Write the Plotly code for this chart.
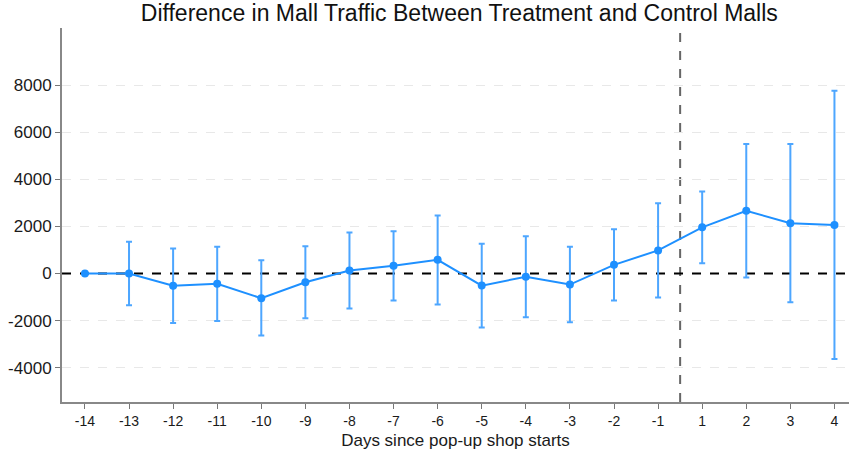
import plotly.graph_objects as go

# Event-study estimates: days relative to the pop-up shop opening
day_labels = ["-14", "-13", "-12", "-11", "-10", "-9", "-8", "-7", "-6",
              "-5", "-4", "-3", "-2", "-1", "1", "2", "3", "4"]
estimate = [0, 0, -520, -440, -1050, -370, 130, 325, 580,
            -515, -140, -470, 367, 980, 1960, 2660, 2137, 2058]
ci_low = [0, -1345, -2100, -2015, -2635, -1900, -1487, -1147, -1317,
          -2294, -1856, -2069, -1147, -1020, 437, -170, -1219, -3628]
ci_high = [0, 1342, 1062, 1130, 565, 1160, 1742, 1797, 2464,
           1257, 1585, 1130, 1882, 2986, 3483, 5493, 5493, 7757]
y_ticks = [-4000, -2000, 0, 2000, 4000, 6000, 8000]

xpos = list(range(len(day_labels)))
x_range = [-0.52, 17.33]
y_range = [-5455, 10420]
err_plus = [h - e for h, e in zip(ci_high, estimate)]
err_minus = [e - l for e, l in zip(estimate, ci_low)]
# the first day is the reference period: no interval drawn
err_visible_plus = [None if i == 0 else v for i, v in enumerate(err_plus)]
err_visible_minus = [None if i == 0 else v for i, v in enumerate(err_minus)]

BLUE = "#1E90FF"
ERR_BLUE = "#4DA6FF"
FONT = "Liberation Sans, Arial, sans-serif"

fig = go.Figure()
# horizontal reference line at zero, drawn beneath the estimates
fig.add_trace(go.Scatter(
    x=x_range, y=[0, 0], mode="lines",
    line=dict(color="black", width=2, dash="dash"),
    hoverinfo="skip", showlegend=False, cliponaxis=True,
))
fig.add_trace(go.Scatter(
    x=xpos, y=estimate,
    mode="lines+markers",
    line=dict(color=BLUE, width=2),
    marker=dict(color=BLUE, size=8),
    error_y=dict(type="data", symmetric=False,
                 array=err_visible_plus, arrayminus=err_visible_minus,
                 color=ERR_BLUE, thickness=2, width=3),
    showlegend=False,
))

# treatment start between day -1 and day 1
fig.add_shape(type="line", xref="x", yref="paper", x0=13.5, x1=13.5, y0=0, y1=1,
              line=dict(color="#666666", width=2, dash="dash"), layer="between")

fig.update_layout(
    width=849, height=452,
    margin=dict(l=62, r=0, t=28, b=50),
    paper_bgcolor="white", plot_bgcolor="white",
    font=dict(family=FONT, color="#1a1a1a", size=14),
    title=dict(text="Difference in Mall Traffic Between Treatment and Control Malls",
               x=0.541, xanchor="center", y=0.972, yanchor="middle",
               font=dict(family=FONT, size=23, color="#111111")),
)
fig.update_xaxes(
    range=x_range,
    tickmode="array", tickvals=xpos, ticktext=day_labels,
    ticks="outside", ticklen=5, tickcolor="#777777", tickwidth=1,
    showline=True, linecolor="#888888", linewidth=2,
    showgrid=False, zeroline=False,
    tickfont=dict(size=14),
    title=dict(text="Days since pop-up shop starts", font=dict(size=17), standoff=6),
)
fig.update_yaxes(
    range=y_range,
    tickmode="array", tickvals=y_ticks, ticktext=[str(v) for v in y_ticks],
    ticks="outside", ticklen=5, tickcolor="#777777", tickwidth=1,
    showline=True, linecolor="#888888", linewidth=2,
    showgrid=True, gridcolor="#e8e8e8", griddash="dash", gridwidth=1,
    zeroline=False,
    tickfont=dict(size=17),
)

fig.write_html("out.html")
